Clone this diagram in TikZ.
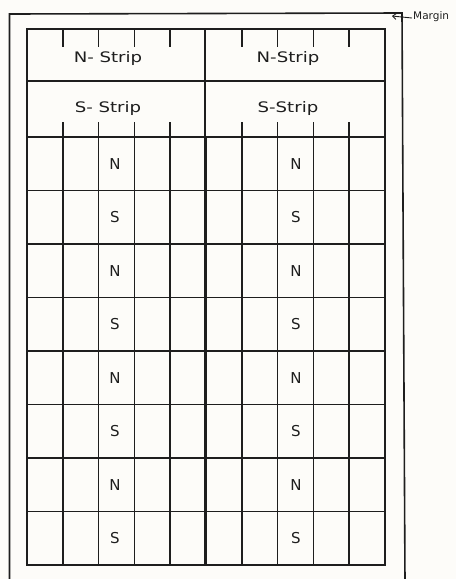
\documentclass[tikz,border=0pt]{standalone}
\usepackage{fontspec}
\setmainfont{DejaVu Sans}
\usetikzlibrary{arrows.meta}
\definecolor{ink}{HTML}{1E1E1E}
\definecolor{paper}{HTML}{FDFCF9}
\tikzset{
  gridline/.style={draw=ink, line width=1.6pt},
  striplabel/.style={text=ink, font=\fontsize{14.5}{16}\selectfont, inner sep=0pt},
  celllabel/.style={text=ink, font=\fontsize{15}{17}\selectfont, inner sep=0pt},
  marginlabel/.style={text=ink, font=\fontsize{10.5}{12}\selectfont, inner sep=0pt, anchor=west},
  marrow/.style={draw=ink, line width=0.9pt, -{Straight Barb[length=3.5pt,width=6pt]}}
}
\begin{document}
\begin{tikzpicture}[x=1pt,y=-1pt]
  \useasboundingbox (0,0) rectangle (456,579);
  \fill[paper] (0,0) rectangle (456,579);
  % outer (margin) border
  \draw[gridline] (9.5,582) -- (9.5,14) -- (402,13) -- (405,582);
  % inner frame
  \draw[gridline] (27,29) rectangle (385,565);
  % strip separators
  \draw[gridline] (27,81) -- (385,81);
  \draw[gridline] (27,137) -- (385,137);
  % middle vertical
  \draw[gridline] (205,29) -- (205,565);
  % ticks on strips
  \foreach \i in {1,2,3,4,6,7,8,9} {
    \pgfmathsetmacro{\xx}{27+35.8*\i}
    \draw[gridline] (\xx,29) -- (\xx,47);
    \draw[gridline] (\xx,137) -- (\xx,122);
  }
  % grid columns below strips
  \foreach \i in {1,...,9} {
    \pgfmathsetmacro{\xx}{27+35.8*\i}
    \draw[gridline] (\xx,137) -- (\xx,565);
  }
  % grid rows
  \foreach \r in {1,...,7} {
    \pgfmathsetmacro{\yy}{137+53.5*\r}
    \draw[gridline] (27,\yy) -- (385,\yy);
  }
  % strip labels
  \node[striplabel] (nl) at (108,58) {\scalebox{1.25}[1]{N- Strip}};
  \node[striplabel] (nr) at (288,58) {\scalebox{1.25}[1]{N-Strip}};
  \node[striplabel] (sl) at (108,108) {\scalebox{1.25}[1]{S- Strip}};
  \node[striplabel] (sr) at (288,108) {\scalebox{1.25}[1]{S-Strip}};
  % cell labels
  \foreach \r/\t in {0/N,1/S,2/N,3/S,4/N,5/S,6/N,7/S} {
    \pgfmathsetmacro{\yy}{137+53.5*(\r+0.5)}
    \node[celllabel] (cl\r) at (115,\yy) {\t};
    \node[celllabel] (cr\r) at (296,\yy) {\t};
  }
  % margin label
  \node[marginlabel] (mg) at (413,17) {Margin};
  \coordinate (mtip) at (392,16);
  \draw[marrow] (mg.west) ++(-1pt,-1pt) -- (mtip);
\end{tikzpicture}
\end{document}
